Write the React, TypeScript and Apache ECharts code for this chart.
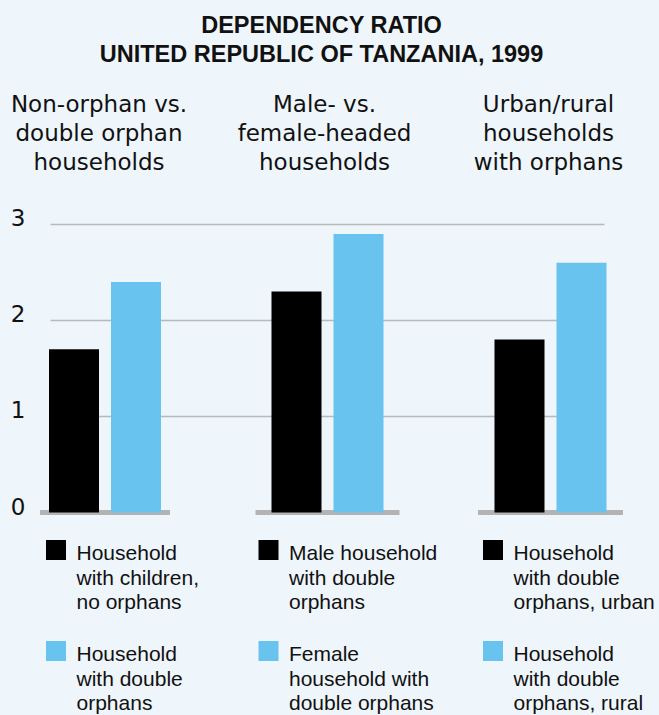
import React, { useEffect, useRef } from "react";
import * as echarts from "echarts";

// ---- data ----
const chartTitle = "DEPENDENCY RATIO\nUNITED REPUBLIC OF TANZANIA, 1999";
const groupTitles = [
  "Non-orphan vs.\ndouble orphan\nhouseholds",
  "Male- vs.\nfemale-headed\nhouseholds",
  "Urban/rural\nhouseholds\nwith orphans",
];
const darkSeriesNames = [
  "Household with children, no orphans",
  "Male household with double orphans",
  "Household with double orphans, urban",
];
const lightSeriesNames = [
  "Household with double orphans",
  "Female household with double orphans",
  "Household with double orphans, rural",
];
const darkLegendLabels = [
  "Household\nwith children,\nno orphans",
  "Male household\nwith double\norphans",
  "Household\nwith double\norphans, urban",
];
const lightLegendLabels = [
  "Household\nwith double\norphans",
  "Female\nhousehold with\ndouble orphans",
  "Household\nwith double\norphans, rural",
];
const darkValues = [1.7, 2.3, 1.8];
const lightValues = [2.4, 2.9, 2.6];
const yMin = 0;
const yMax = 3;
const yInterval = 1;

// ---- styles / layout ----
const BG = "#eef5fb";
const DARK = "#000000";
const LIGHT = "#68c3ef";
const GRID_GRAY = "#b9b9b9";
const BASE_GRAY = "#b3b3b3";
const PLOT_TOP = 224.3;
const PLOT_BOTTOM = 715 - 512.5;
const groupGrids = [
  { left: 40, width: 130 },
  { left: 255.5, width: 144 },
  { left: 478, width: 145 },
];
const headerX = [99, 324.5, 548.5];
const legendSquareX = [46, 258.5, 483];
const legendTextX = [76.5, 289, 513.5];
const legendRowTop = [540, 641];

export default function App() {
  const ref = useRef<HTMLDivElement>(null);

  useEffect(() => {
    if (!ref.current) return;
    const chart = echarts.init(ref.current, null, { renderer: "svg" });

    const grids: any[] = [
      { left: 50.5, right: 659 - 604.5, top: PLOT_TOP, bottom: PLOT_BOTTOM },
      ...groupGrids.map((g) => ({ left: g.left, width: g.width, top: PLOT_TOP, bottom: PLOT_BOTTOM })),
    ];

    const xAxes: any[] = [
      { type: "category", gridIndex: 0, data: ["all"], show: false },
      ...groupTitles.map((t, i) => ({
        type: "category",
        gridIndex: i + 1,
        data: [t.replace(/\n/g, " ")],
        axisLine: { show: true, lineStyle: { color: BASE_GRAY, width: 5, cap: "butt" } },
        axisTick: { show: false },
        axisLabel: { show: false },
      })),
    ];

    const yAxes: any[] = [
      {
        type: "value",
        gridIndex: 0,
        min: yMin,
        max: yMax,
        interval: yInterval,
        axisLine: { show: false },
        axisTick: { show: false },
        splitLine: { show: true, showMinLine: false, lineStyle: { color: GRID_GRAY, width: 1.4 } },
        axisLabel: {
          margin: 25,
          color: "#111",
          fontFamily: "DejaVu Sans",
          fontSize: 23,
          verticalAlign: "bottom",
          lineHeight: 12,
        },
      },
      ...groupTitles.map((_, i) => ({
        type: "value",
        gridIndex: i + 1,
        min: yMin,
        max: yMax,
        interval: yInterval,
        show: false,
        splitLine: { show: false },
      })),
    ];

    const series: any[] = [];
    groupTitles.forEach((_, i) => {
      series.push({
        type: "bar",
        name: darkSeriesNames[i],
        xAxisIndex: i + 1,
        yAxisIndex: i + 1,
        data: [darkValues[i]],
        barWidth: 50,
        barGap: "24%",
        itemStyle: { color: DARK },
      });
      series.push({
        type: "bar",
        name: lightSeriesNames[i],
        xAxisIndex: i + 1,
        yAxisIndex: i + 1,
        data: [lightValues[i]],
        barWidth: 50,
        barGap: "24%",
        itemStyle: { color: LIGHT },
      });
    });

    const graphics: any[] = [];
    groupTitles.forEach((t, i) => {
      graphics.push({
        type: "text",
        x: headerX[i],
        y: 133,
        style: {
          text: t,
          fill: "#111",
          fontFamily: "DejaVu Sans",
          fontSize: 23,
          lineHeight: 29,
          align: "center",
          verticalAlign: "middle",
        },
      });
    });
    const legendRows = [
      { labels: darkLegendLabels, color: DARK },
      { labels: lightLegendLabels, color: LIGHT },
    ];
    legendRows.forEach((row, r) => {
      row.labels.forEach((label, c) => {
        graphics.push({
          type: "rect",
          shape: { x: legendSquareX[c], y: legendRowTop[r], width: 20, height: 20 },
          style: { fill: row.color },
        });
        graphics.push({
          type: "text",
          x: legendTextX[c],
          y: legendRowTop[r] + 0.5,
          style: {
            text: label,
            fill: "#111",
            fontFamily: "Liberation Sans",
            fontSize: 21,
            lineHeight: 24.5,
            align: "left",
            verticalAlign: "top",
          },
        });
      });
    });

    chart.setOption({
      animation: false,
      backgroundColor: BG,
      title: {
        text: chartTitle,
        left: 321.5,
        top: 10.4,
        padding: 0,
        textAlign: "center",
        textStyle: {
          fontFamily: "Liberation Sans",
          fontWeight: "bold",
          fontSize: 23.5,
          lineHeight: 29,
          color: "#111",
        },
      },
      grid: grids,
      xAxis: xAxes,
      yAxis: yAxes,
      series,
      graphic: graphics,
    });

    return () => chart.dispose();
  }, []);

  return (
    <div
      ref={ref}
      style={{ position: "fixed", left: 0, top: 0, width: 659, height: 715 }}
    />
  );
}
